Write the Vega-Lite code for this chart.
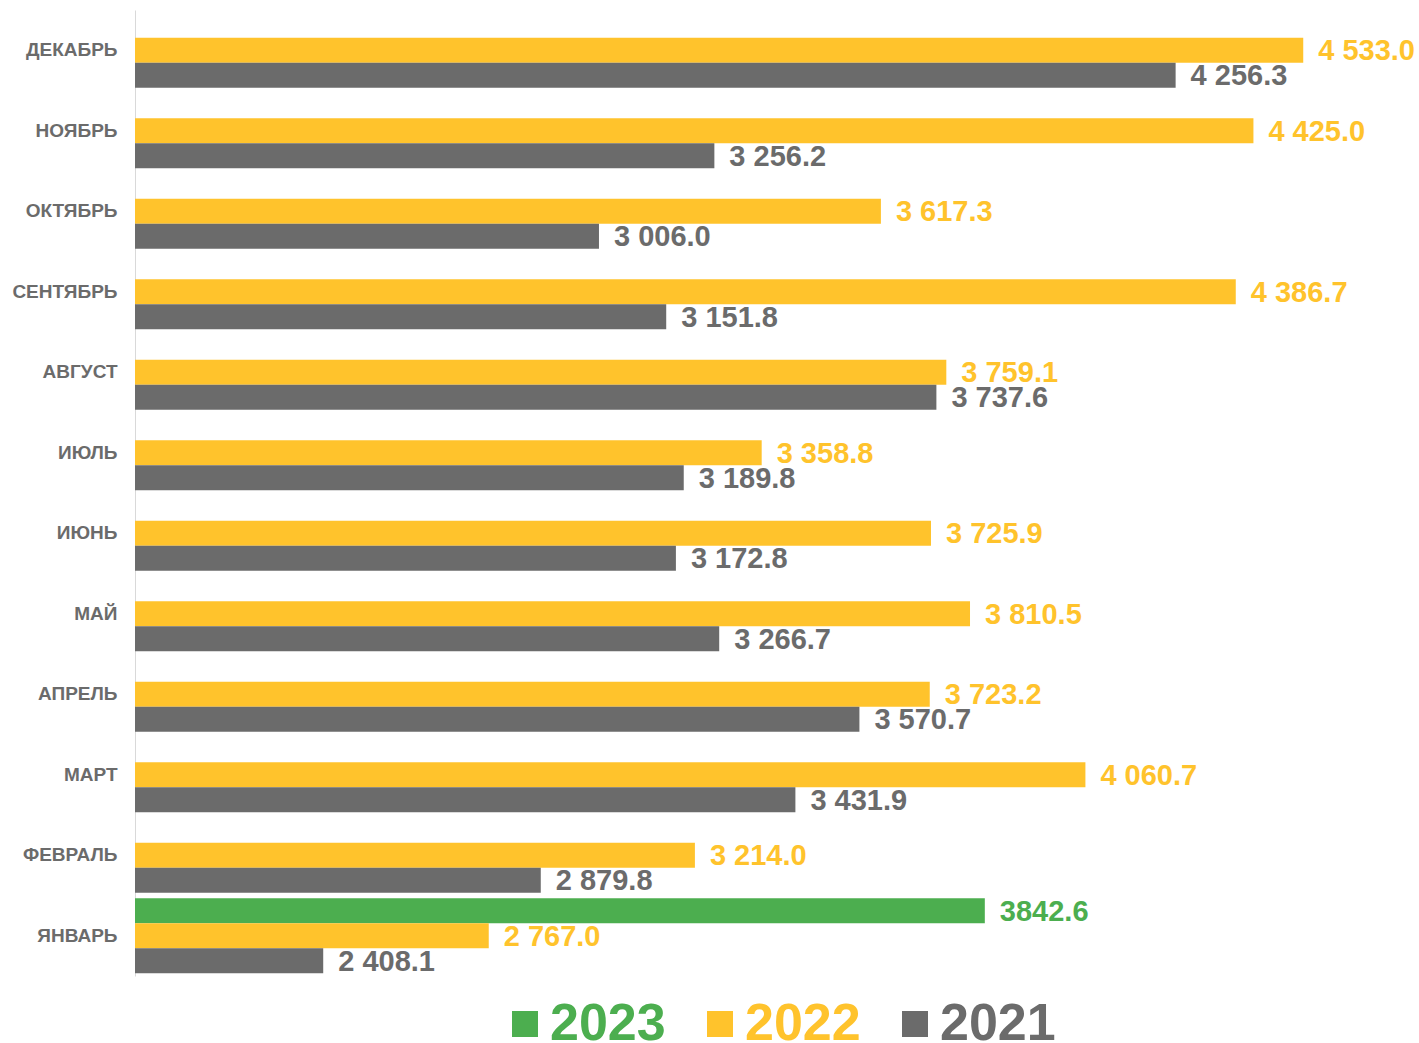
{
  "$schema": "https://vega.github.io/schema/vega-lite/v6.json",
  "width": 1284,
  "height": 966,
  "padding": {"left": 0, "top": 10, "right": 0, "bottom": 0},
  "background": "white",
  "config": {
    "view": {"stroke": null},
    "font": "Liberation Sans",
    "legend": {"layout": {"bottom": {"anchor": "middle"}}}
  },
  "data": {
    "values": [
      {"month": "ДЕКАБРЬ", "year": "2022", "value": 4533.0, "label": "4 533.0"},
      {"month": "ДЕКАБРЬ", "year": "2021", "value": 4256.3, "label": "4 256.3"},
      {"month": "НОЯБРЬ", "year": "2022", "value": 4425.0, "label": "4 425.0"},
      {"month": "НОЯБРЬ", "year": "2021", "value": 3256.2, "label": "3 256.2"},
      {"month": "ОКТЯБРЬ", "year": "2022", "value": 3617.3, "label": "3 617.3"},
      {"month": "ОКТЯБРЬ", "year": "2021", "value": 3006.0, "label": "3 006.0"},
      {"month": "СЕНТЯБРЬ", "year": "2022", "value": 4386.7, "label": "4 386.7"},
      {"month": "СЕНТЯБРЬ", "year": "2021", "value": 3151.8, "label": "3 151.8"},
      {"month": "АВГУСТ", "year": "2022", "value": 3759.1, "label": "3 759.1"},
      {"month": "АВГУСТ", "year": "2021", "value": 3737.6, "label": "3 737.6"},
      {"month": "ИЮЛЬ", "year": "2022", "value": 3358.8, "label": "3 358.8"},
      {"month": "ИЮЛЬ", "year": "2021", "value": 3189.8, "label": "3 189.8"},
      {"month": "ИЮНЬ", "year": "2022", "value": 3725.9, "label": "3 725.9"},
      {"month": "ИЮНЬ", "year": "2021", "value": 3172.8, "label": "3 172.8"},
      {"month": "МАЙ", "year": "2022", "value": 3810.5, "label": "3 810.5"},
      {"month": "МАЙ", "year": "2021", "value": 3266.7, "label": "3 266.7"},
      {"month": "АПРЕЛЬ", "year": "2022", "value": 3723.2, "label": "3 723.2"},
      {"month": "АПРЕЛЬ", "year": "2021", "value": 3570.7, "label": "3 570.7"},
      {"month": "МАРТ", "year": "2022", "value": 4060.7, "label": "4 060.7"},
      {"month": "МАРТ", "year": "2021", "value": 3431.9, "label": "3 431.9"},
      {"month": "ФЕВРАЛЬ", "year": "2022", "value": 3214.0, "label": "3 214.0"},
      {"month": "ФЕВРАЛЬ", "year": "2021", "value": 2879.8, "label": "2 879.8"},
      {"month": "ЯНВАРЬ", "year": "2023", "value": 3842.6, "label": "3842.6"},
      {"month": "ЯНВАРЬ", "year": "2022", "value": 2767.0, "label": "2 767.0"},
      {"month": "ЯНВАРЬ", "year": "2021", "value": 2408.1, "label": "2 408.1"}
    ]
  },
  "encoding": {
    "y": {
      "field": "month",
      "type": "nominal",
      "sort": ["ДЕКАБРЬ", "НОЯБРЬ", "ОКТЯБРЬ", "СЕНТЯБРЬ", "АВГУСТ", "ИЮЛЬ", "ИЮНЬ", "МАЙ", "АПРЕЛЬ", "МАРТ", "ФЕВРАЛЬ", "ЯНВАРЬ"],
      "scale": {"paddingInner": 0, "paddingOuter": 0},
      "axis": {
        "title": null,
        "ticks": false,
        "grid": false,
        "labelFontSize": 19,
        "labelFontWeight": "bold",
        "labelColor": "#6b6b6b",
        "labelPadding": 18,
        "domainColor": "#d9d9d9",
        "domainWidth": 1,
        "minExtent": 135,
        "maxExtent": 135
      }
    },
    "yOffset": {
      "field": "year",
      "type": "nominal",
      "sort": ["2023", "2022", "2021"],
      "scale": {"paddingOuter": 0.108, "paddingInner": 0}
    },
    "x": {
      "field": "value",
      "type": "quantitative",
      "scale": {"domain": [2000, 4784], "zero": false, "nice": false},
      "axis": null
    },
    "color": {
      "field": "year",
      "type": "nominal",
      "sort": ["2023", "2022", "2021"],
      "scale": {"domain": ["2023", "2022", "2021"], "range": ["#4cae4f", "#ffc32c", "#6b6b6b"]},
      "legend": {
        "title": null,
        "orient": "bottom",
        "direction": "horizontal",
        "symbolType": "square",
        "symbolSize": 676,
        "symbolStrokeWidth": 0,
        "labelFontSize": 52,
        "labelFontWeight": "bold",
        "labelLimit": 0,
        "labelOffset": -1,
        "columnPadding": 28,
        "offset": 22,
        "encode": {
          "labels": {"update": {"fill": {"scale": "color", "field": "value"}}}
        }
      }
    }
  },
  "layer": [
    {
      "mark": {"type": "bar", "cornerRadius": 0},
      "encoding": {"x2": {"datum": 2000}}
    },
    {
      "mark": {"type": "text", "align": "left", "baseline": "middle", "dx": 15, "dy": 1, "fontSize": 29, "fontWeight": "bold"},
      "encoding": {"text": {"field": "label"}}
    }
  ]
}
